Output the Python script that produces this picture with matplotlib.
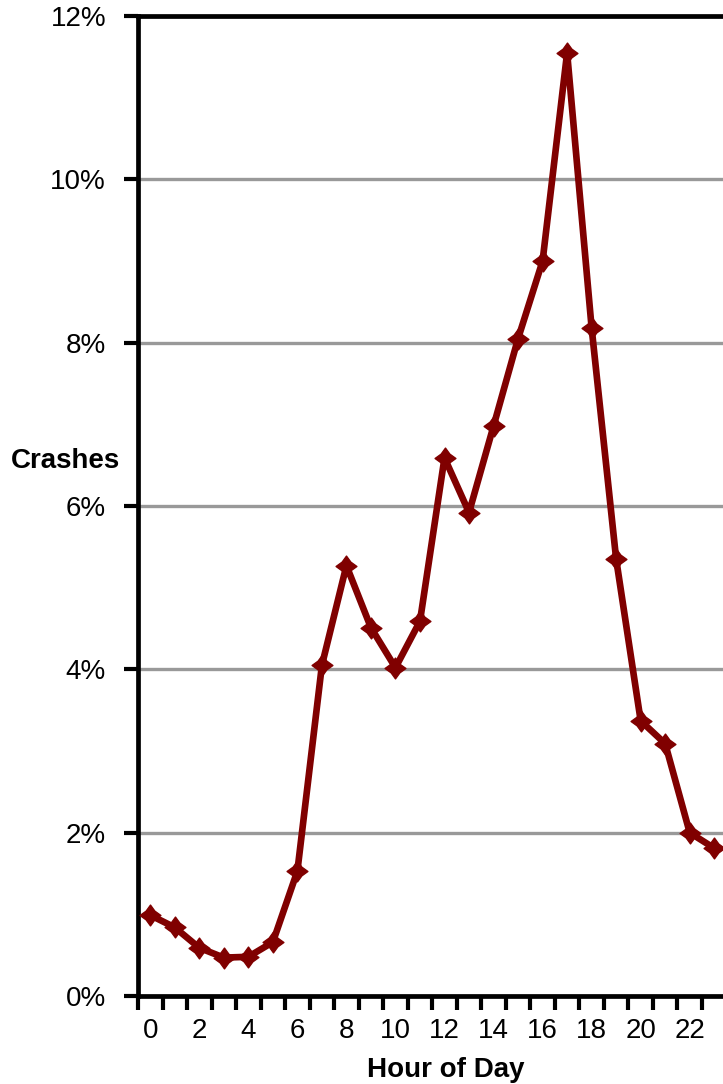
import numpy as np
import matplotlib
matplotlib.use('Agg')
import matplotlib.pyplot as plt
from matplotlib.path import Path
from matplotlib.ticker import FuncFormatter, MultipleLocator, FixedLocator

plt.rcParams['font.family'] = ['Liberation Sans', 'DejaVu Sans']

# Data (share of crashes by hour of day, %)
hours = list(range(24))
crash_pct = [0.99, 0.84, 0.59, 0.47, 0.48, 0.66, 1.53, 4.05, 5.27, 4.51,
             4.02, 4.59, 6.59, 5.92, 6.98, 8.05, 9.00, 11.55, 8.18, 5.35,
             3.37, 3.09, 2.00, 1.81]
hour_labels = [str(h) for h in range(0, 24, 2)]

line_color = '#800000'

# Excel-style diamond marker with slightly pinched sides
r, q = 1.0, 0.42
star = Path([(0, r), (q, q), (r, 0), (q, -q), (0, -r), (-q, -q), (-r, 0), (-q, q), (0, r)],
            [Path.MOVETO] + [Path.LINETO] * 7 + [Path.CLOSEPOLY])

fig = plt.figure(figsize=(7.23, 10.84), dpi=100)
ax = fig.add_axes([138 / 723, 1 - 996 / 1084, (726.5 - 138) / 723, (996 - 16) / 1084])

ax.plot(hours, crash_pct, color=line_color, lw=4.8, zorder=3,
        marker=star, markersize=15, markerfacecolor=line_color, markeredgecolor=line_color)

ax.set_xlim(-0.5, 23.5)
ax.set_ylim(0, 12)

ax.yaxis.set_major_locator(MultipleLocator(2))
ax.yaxis.set_major_formatter(FuncFormatter(lambda v, p: f'{v:.0f}%'))
ax.xaxis.set_major_locator(FixedLocator(np.arange(-0.5, 24, 1)))
ax.xaxis.set_major_formatter(FuncFormatter(lambda v, p: ''))
ax.set_xticks(range(0, 24, 2), minor=True)
ax.set_xticklabels(hour_labels, minor=True)

ax.tick_params(axis='x', which='major', direction='out', length=10, width=3, color='black')
ax.tick_params(axis='x', which='minor', length=0, pad=16, labelsize=20)
ax.tick_params(axis='y', direction='out', length=10, width=3, pad=13, labelsize=20)

ax.grid(axis='y', color='#999999', lw=2.4, zorder=1)
ax.set_axisbelow(True)

for side in ['left', 'bottom', 'top']:
    ax.spines[side].set_linewidth(3.4)
    ax.spines[side].set_color('black')
ax.spines['right'].set_visible(False)

fig.text(65 / 723, 1 - 461 / 1084, 'Crashes', ha='center', va='center',
         fontsize=20, fontweight='bold')
fig.text(446 / 723, 1 - 1070 / 1084, 'Hour of Day', ha='center', va='center',
         fontsize=20, fontweight='bold')

fig.savefig('out.png', dpi=100)
